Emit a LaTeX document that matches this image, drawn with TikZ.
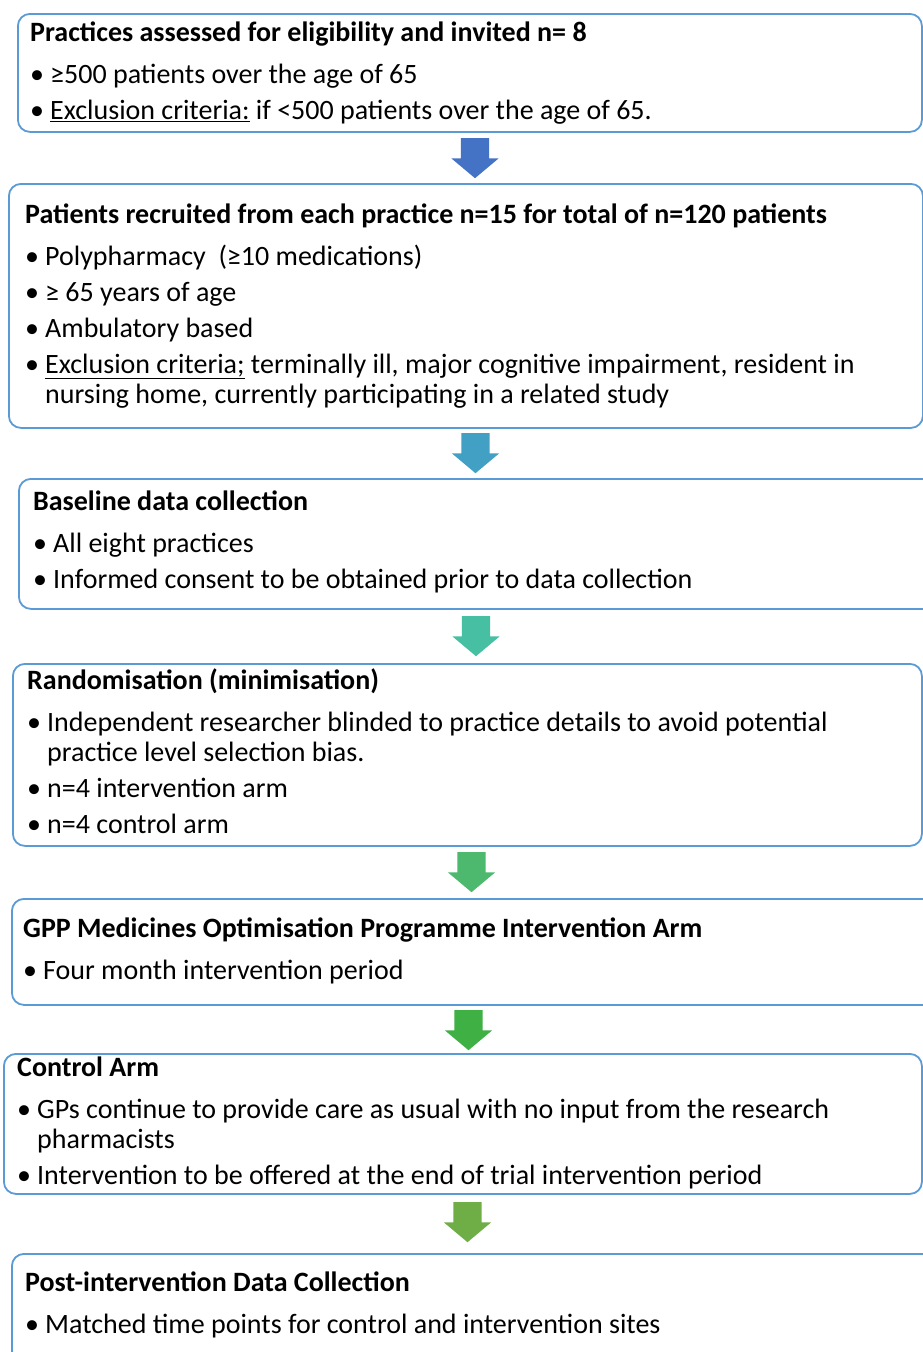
\documentclass[tikz,border=0pt]{standalone}
\usepackage{fontspec}
\setmainfont{Carlito}
\usepackage{tikz}
\usetikzlibrary{shapes.arrows, positioning}

\definecolor{boxline}{HTML}{5B9BD5}
\definecolor{arrowA}{HTML}{4472C4}
\definecolor{arrowB}{HTML}{42A0C4}
\definecolor{arrowC}{HTML}{47BFA3}
\definecolor{arrowD}{HTML}{4CB96E}
\definecolor{arrowE}{HTML}{3FB043}
\definecolor{arrowF}{HTML}{6FAD47}

\newcommand{\ttl}[1]{\textbf{\rule{0pt}{23pt}#1}}
\newcommand{\bul}{\makebox[20pt][l]{\textbullet}}
\newcommand{\hang}{\hspace*{20pt}}

\begin{document}
\begin{tikzpicture}[x=1pt, y=1pt,
   stagebox/.style={draw=boxline, line width=1.8pt, rounded corners=12pt,
      anchor=north west, inner sep=0pt},
   stagetext/.style={anchor=north west, align=left, inner sep=0pt,
      font=\fontsize{28}{30}\selectfont},
   downarrow/.style={single arrow, rotate=-90, anchor=tail, draw=none,
      inner xsep=0pt, inner ysep=14pt, minimum height=40pt, minimum width=47pt,
      single arrow head extend=9.5pt, single arrow tip angle=100}]
   \fill[white] (0,0) rectangle (923,-1352);
   \useasboundingbox (0,0) rectangle (923,-1352);

   % 方框
   \node[stagebox, minimum width=904pt, minimum height=118pt] (b1) at (17,-13) {};
   \node[stagebox, minimum width=914pt, minimum height=244pt] (b2) at (8,-183) {};
   \node[stagebox, minimum width=930pt, minimum height=130pt] (b3) at (18,-478) {};
   \node[stagebox, minimum width=909pt, minimum height=182pt] (b4) at (12,-663) {};
   \node[stagebox, minimum width=930pt, minimum height=106pt] (b5) at (11,-898) {};
   \node[stagebox, minimum width=918pt, minimum height=140pt] (b6) at (3,-1053) {};
   \node[stagebox, minimum width=930pt, minimum height=130pt] (b7) at (11,-1253) {};

   % 文字
   \node[stagetext] (t1) at ([shift={(13,-5)}]b1.north west)
      {\ttl{Practices assessed for eligibility and invited n= 8}\\[12pt]
       \bul ≥500 patients over the age of 65\\[6pt]
       \bul \underline{Exclusion criteria:} if <500 patients over the age of 65.};
   \node[stagetext] (t2) at ([shift={(17,-17)}]b2.north west)
      {\ttl{Patients recruited from each practice n=15 for total of n=120 patients}\\[12pt]
       \bul Polypharmacy~ (≥10 medications)\\[6pt]
       \bul ≥ 65 years of age\\[6pt]
       \bul Ambulatory based\\[6pt]
       \bul \underline{Exclusion criteria;} terminally ill, major cognitive impairment, resident in\\
       \hang nursing home, currently participating in a related study};
   \node[stagetext] (t3) at ([shift={(15,-9)}]b3.north west)
      {\ttl{Baseline data collection}\\[12pt]
       \bul All eight practices\\[6pt]
       \bul Informed consent to be obtained prior to data collection};
   \node[stagetext] (t4) at ([shift={(15,-3)}]b4.north west)
      {\ttl{Randomisation (minimisation)}\\[12pt]
       \bul Independent researcher blinded to practice details to avoid potential\\
       \hang practice level selection bias.\\[6pt]
       \bul n=4 intervention arm\\[6pt]
       \bul n=4 control arm};
   \node[stagetext] (t5) at ([shift={(12,-16)}]b5.north west)
      {\ttl{GPP Medicines Optimisation Programme Intervention Arm}\\[12pt]
       \bul Four month intervention period};
   \node[stagetext] (t6) at ([shift={(14,0)}]b6.north west)
      {\ttl{Control Arm}\\[12pt]
       \bul GPs continue to provide care as usual with no input from the research\\
       \hang pharmacists\\[6pt]
       \bul Intervention to be offered at the end of trial intervention period};
   \node[stagetext] (t7) at ([shift={(14,-15)}]b7.north west)
      {\ttl{Post-intervention Data Collection}\\[12pt]
       \bul Matched time points for control and intervention sites};

   % 箭头
   \node[downarrow, fill=arrowA] (a1) at (475,-138) {};
   \node[downarrow, fill=arrowB] (a2) at (475.5,-433) {};
   \node[downarrow, fill=arrowC] (a3) at (476,-616) {};
   \node[downarrow, fill=arrowD] (a4) at (471.5,-852) {};
   \node[downarrow, fill=arrowE] (a5) at (468.5,-1010) {};
   \node[downarrow, fill=arrowF] (a6) at (467.5,-1202) {};
\end{tikzpicture}
\end{document}
